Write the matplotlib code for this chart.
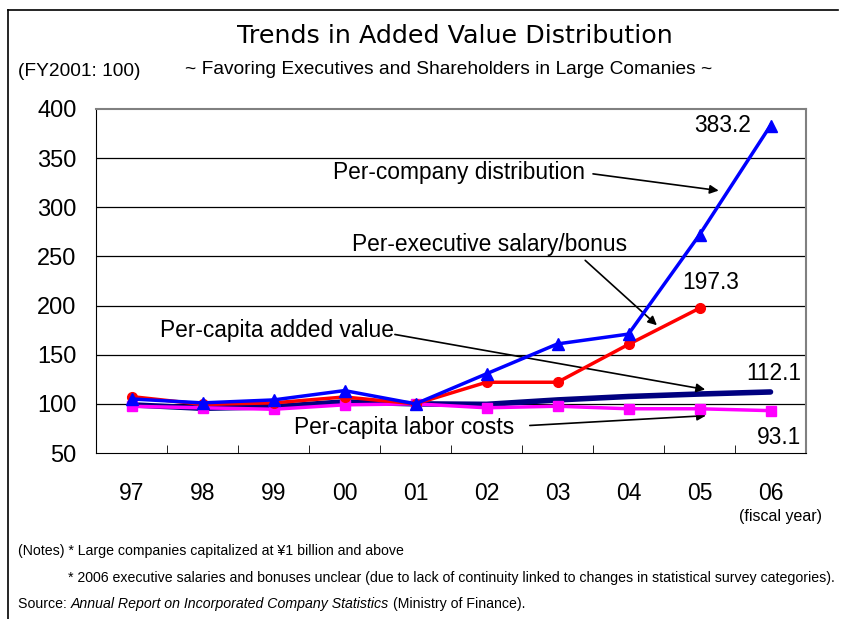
import matplotlib
matplotlib.use("Agg")
import matplotlib.pyplot as plt
from matplotlib import font_manager as fm

years = ["97", "98", "99", "00", "01", "02", "03", "04", "05", "06"]
per_company = [105, 101, 104, 113.5, 100, 130.6, 161, 171, 272, 383.2]
per_exec = [107.4, 99.5, 101, 107, 100, 122, 122, 160.5, 197.3]
added_value = [99, 95.5, 97, 102, 100, 99.5, 104, 107.5, 110, 112.1]
labor_costs = [97.5, 96, 94.5, 99, 100, 96, 97.6, 95, 95, 93.1]
yticks = [50, 100, 150, 200, 250, 300, 350, 400]

names = {f.name for f in fm.fontManager.ttflist}
MAIN = "Liberation Sans" if "Liberation Sans" in names else "DejaVu Sans"
plt.rcParams["font.family"] = [MAIN, "DejaVu Sans"]

W, H = 843, 619
fig = plt.figure(figsize=(W / 100, H / 100), dpi=100)

def fx(px):
    return px / W

def fy(py):
    return 1 - py / H

# outer frame (left + top)
fig.add_artist(plt.Line2D([fx(8), fx(8)], [fy(10), 0], color="black", lw=1.2))
fig.add_artist(plt.Line2D([fx(8), fx(838)], [fy(10), fy(10)], color="black", lw=1.2))

ax = fig.add_axes([fx(96), fy(453), fx(806) - fx(96), fy(109) - fy(453)])
x = list(range(len(years)))

ax.plot(x, added_value, color="#000080", lw=4, zorder=3, solid_capstyle="round")
ax.plot(x, labor_costs, color="#FF00FF", lw=2.5, marker="s", ms=7, zorder=4)
ax.plot(x[:len(per_exec)], per_exec, color="#FF0000", lw=2.5, marker="o", ms=7, zorder=5)
ax.plot(x, per_company, color="#0000FF", lw=2.5, marker="^", ms=9, zorder=6)

ax.set_xlim(-0.5, len(years) - 0.5)
ax.set_ylim(50, 400)
ax.set_yticks(yticks)
ax.set_yticklabels([str(v) for v in yticks], fontsize=17)
ax.set_xticks(x)
ax.set_xticklabels(years, fontsize=16.5)
ax.tick_params(axis="x", which="major", length=0, pad=21)
ax.set_xticks([i + 0.5 for i in x[:-1]], minor=True)
ax.tick_params(axis="x", which="minor", direction="in", length=6, color="black")
ax.tick_params(axis="y", which="major", length=0, pad=14)
for v in yticks[1:-1]:
    ax.axhline(v, color="black", lw=0.9, zorder=1)
ax.spines["top"].set_color("#808080")
ax.spines["right"].set_color("#808080")
ax.spines["top"].set_linewidth(1.5)
ax.spines["right"].set_linewidth(1.5)
ax.spines["left"].set_color("black")
ax.spines["bottom"].set_color("black")

arrow = dict(arrowstyle="-|>", color="black", lw=1.2, mutation_scale=13, shrinkA=0, shrinkB=0)
fs = 16.4
ax.text(4.61, 335, "Per-company distribution", fontsize=fs, ha="center", va="center")
ax.annotate("", xy=(8.27, 317), xytext=(6.50, 334), arrowprops=arrow)
ax.text(5.05, 262, "Per-executive salary/bonus", fontsize=fs, ha="center", va="center")
ax.annotate("", xy=(7.40, 180), xytext=(6.39, 246), arrowprops=arrow)
ax.text(2.05, 175, "Per-capita added value", fontsize=fs, ha="center", va="center")
ax.annotate("", xy=(8.08, 114.6), xytext=(3.71, 170.6), arrowprops=arrow)
ax.text(3.84, 76, "Per-capita labor costs", fontsize=fs, ha="center", va="center")
ax.annotate("", xy=(8.09, 88), xytext=(5.61, 78), arrowprops=arrow)

ax.text(8.33, 383, "383.2", fontsize=fs, ha="center", va="center")
ax.text(8.16, 223.5, "197.3", fontsize=fs, ha="center", va="center")
ax.text(9.05, 131, "112.1", fontsize=fs, ha="center", va="center")
ax.text(9.12, 66, "93.1", fontsize=fs, ha="center", va="center")

fig.text(fx(455), fy(36), "Trends in Added Value Distribution", fontsize=18.3,
         ha="center", va="center", family=["DejaVu Sans"])
fig.text(fx(449), fy(70), "~ Favoring Executives and Shareholders in Large Comanies ~",
         fontsize=13.8, ha="center", va="center")
fig.text(fx(18), fy(72), "(FY2001: 100)", fontsize=13.8, ha="left", va="center")
fig.text(fx(822), fy(516), "(fiscal year)", fontsize=11.5, ha="right", va="center")

nfs = 10.2
fig.text(fx(18), fy(551), "(Notes) * Large companies capitalized at \u00a51 billion and above",
         fontsize=nfs, ha="left", va="center")
fig.text(fx(68), fy(578), "* 2006 executive salaries and bonuses unclear (due to lack of continuity "
         "linked to changes in statistical survey categories).",
         fontsize=nfs, ha="left", va="center")
t1 = fig.text(fx(18), fy(604), "Source: ", fontsize=nfs, ha="left", va="center")
fig.canvas.draw()
r = fig.canvas.get_renderer()
bb = t1.get_window_extent(r)
t2 = fig.text(bb.x1 / W, fy(604), "Annual Report on Incorporated Company Statistics",
              fontsize=nfs, ha="left", va="center", style="italic")
bb2 = t2.get_window_extent(r)
fig.text(bb2.x1 / W + 4 / W, fy(604), "(Ministry of Finance).", fontsize=nfs,
         ha="left", va="center")

fig.savefig("out.png", dpi=100)
